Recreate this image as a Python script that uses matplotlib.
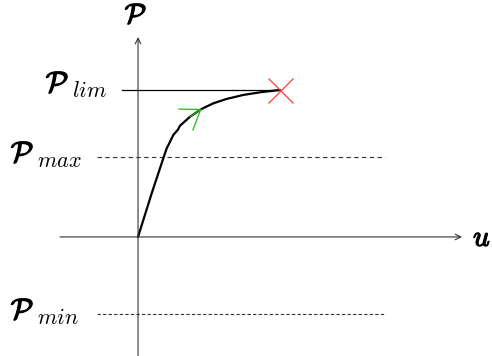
import numpy as np
from matplotlib import pyplot as plt
import matplotlib.patheffects as pe

plt.rcParams['mathtext.fontset'] = 'cm'

# curve (u, P), P normalised so that P_lim = 1
u_curve = [0.0, 0.093, 0.172, 0.195, 0.218, 0.240, 0.270, 0.286, 0.354,
           0.433, 0.512, 0.603, 0.716, 0.830, 0.966]
p_curve = [0.0, 0.297, 0.535, 0.603, 0.648, 0.694, 0.728, 0.757, 0.818,
           0.871, 0.909, 0.939, 0.966, 0.984, 1.0]

p_lim = 1.0
p_max = 0.544
p_min = -0.524
u_lim = 0.966
arrow_at = 9  # index of curve point carrying the direction arrow

fig = plt.figure(figsize=(4.92, 3.56), dpi=100)
ax = fig.add_axes([0, 0, 1, 1])
ax.set_xlim(-0.939, 2.408)
ax.set_ylim(-0.81, 1.612)
ax.axis('off')

# axes with arrows
axis_kw = dict(arrowstyle='->', color='#333333', lw=0.8, shrinkA=0, shrinkB=0,
               mutation_scale=10)
ax.annotate('', xy=(2.204, 0), xytext=(-0.531, 0), arrowprops=axis_kw)
ax.annotate('', xy=(0, 1.36), xytext=(0, -0.82), arrowprops=axis_kw)

# reference levels
ax.plot([-0.109, u_lim], [p_lim, p_lim], color='black', lw=0.9)
ax.plot([-0.279, 1.68], [p_max, p_max], color='#333333', lw=0.8, ls=(0, (4, 3)))
ax.plot([-0.279, 1.68], [p_min, p_min], color='#333333', lw=0.8, ls=(0, (3, 2)))

# direction arrow on the curve
ax.annotate('', xy=(u_curve[arrow_at], p_curve[arrow_at]),
            xytext=(u_curve[arrow_at - 1], p_curve[arrow_at - 1]),
            arrowprops=dict(arrowstyle='->,head_length=1.0,head_width=0.7',
                            color='#22bb22', lw=0.9, mutation_scale=13,
                            shrinkA=0, shrinkB=0))

# curve (drawn over the arrow shaft)
ax.plot(u_curve, p_curve, color='black', lw=1.6, solid_joinstyle='round',
        solid_capstyle='round')
ax.plot(u_lim, p_lim, marker='x', markersize=18, color='#ff3b3b', mew=0.9)

bold = [pe.withStroke(linewidth=0.9, foreground='black')]
fs = 21
sub = 16
ax.text(-0.014, 1.51, r'$\mathcal{P}$', fontsize=20, ha='center', va='center',
        path_effects=bold)
ax.text(-0.548, 1.041, r'$\mathcal{P}$', fontsize=fs, ha='center', va='center',
        path_effects=bold)
ax.text(-0.449, 0.952, r'$lim$', fontsize=sub, ha='left', va='baseline')
ax.text(-0.786, 0.565, r'$\mathcal{P}$', fontsize=fs, ha='center', va='center',
        path_effects=bold)
ax.text(-0.687, 0.476, r'$max$', fontsize=sub, ha='left', va='baseline')
ax.text(-0.786, -0.503, r'$\mathcal{P}$', fontsize=fs, ha='center', va='center',
        path_effects=bold)
ax.text(-0.687, -0.592, r'$min$', fontsize=sub, ha='left', va='baseline')
ax.text(2.34, -0.007, r'$u$', fontsize=fs, ha='center', va='center',
        path_effects=bold)

plt.savefig('out.png', dpi=100)
